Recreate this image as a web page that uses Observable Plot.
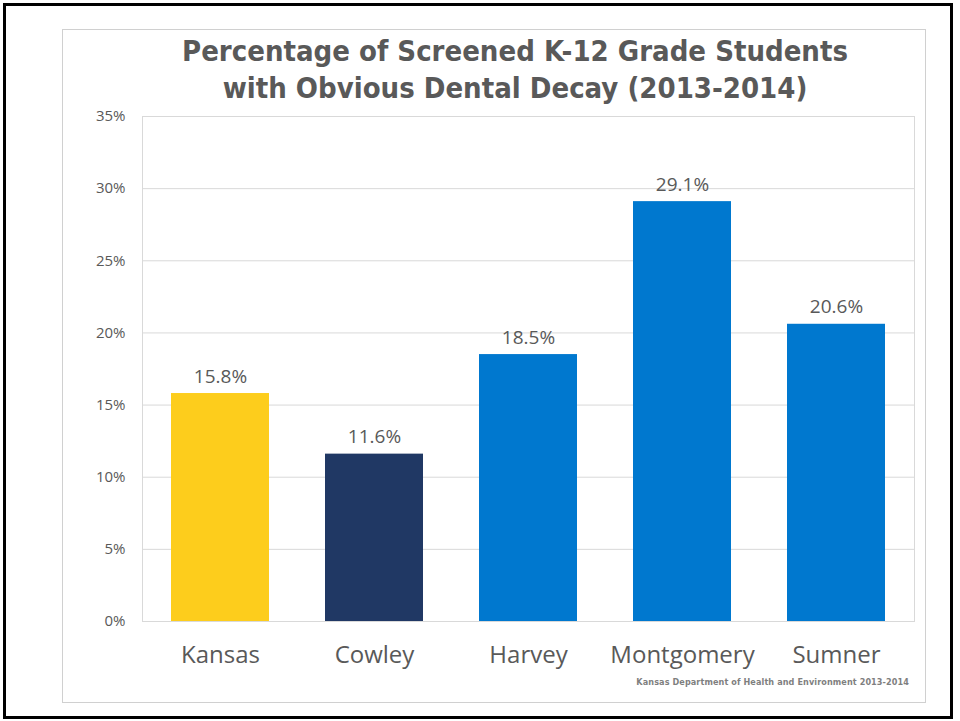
<!DOCTYPE html>
<html>
<head>
<meta charset="utf-8">
<script src="https://cdn.jsdelivr.net/npm/d3@7"></script>
<script src="https://cdn.jsdelivr.net/npm/@observablehq/plot@0.6"></script>
<style>
  html, body { margin: 0; padding: 0; background: #fff; }
  #wrap { position: relative; width: 960px; height: 721px; overflow: hidden; }
  #outer { position: absolute; left: 3px; top: 3px; width: 944px; height: 710px; border: 3px solid #000; }
  #inner { position: absolute; left: 62px; top: 29px; width: 862px; height: 672px; border: 1px solid #d0d0d0; }
  #title { position: absolute; left: 62px; width: 906px; top: 33px; text-align: center;
           font-family: "DejaVu Sans Condensed", "DejaVu Sans", sans-serif; font-weight: bold;
           font-size: 29px; line-height: 37px; color: #595959; }
  #caption { position: absolute; right: 51px; top: 677px; font-family: "DejaVu Sans Condensed", "DejaVu Sans", sans-serif;
             font-weight: bold; font-size: 9px; letter-spacing: 0.1px; color: #7f7f7f; white-space: nowrap; }
  #chart { position: absolute; left: 0; top: 0; }
</style>
</head>
<body>
<div id="wrap">
  <div id="outer"></div>
  <div id="inner"></div>
  <div id="chart"></div>
  <div id="title">Percentage of Screened K-12 Grade Students<br>with Obvious Dental Decay (2013-2014)</div>
  <div id="caption">Kansas Department of Health and Environment 2013-2014</div>
</div>
<script>
const categories = ["Kansas", "Cowley", "Harvey", "Montgomery", "Sumner"];
const values = [15.8, 11.6, 18.5, 29.1, 20.6];
const barColors = ["#FDCD1C", "#203864", "#0078CF", "#0078CF", "#0078CF"];
const yTicks = [0, 5, 10, 15, 20, 25, 30, 35];

const data = categories.map((c, i) => ({category: c, value: values[i], color: barColors[i]}));

const chart = Plot.plot({
  width: 960,
  height: 721,
  marginLeft: 142,
  marginRight: 46,
  marginTop: 116,
  marginBottom: 100,
  style: { background: "transparent", fontFamily: "'Open Sans', sans-serif", color: "#595959" },
  x: { domain: categories, paddingInner: 0.365, paddingOuter: 0.1825, label: null },
  y: { domain: [0, 35], label: null },
  marks: [
    Plot.gridY(yTicks, { stroke: "#d9d9d9", strokeOpacity: 1 }),
    Plot.frame({ stroke: "#d9d9d9" }),
    Plot.barY(data, { x: "category", y: "value", fill: "color" }),
    Plot.text(data, { x: "category", y: "value", text: d => d.value.toFixed(1) + "%", lineAnchor: "bottom", dy: -11, fontSize: 19, fill: "#595959" }),
    Plot.axisY({ ticks: yTicks, tickSize: 0, tickPadding: 17, tickFormat: d => d + "%", fontSize: 15, fill: "#595959", label: null }),
    Plot.axisX({ tickSize: 0, tickPadding: 24, fontSize: 24, fill: "#595959", label: null })
  ]
});
document.getElementById("chart").appendChild(chart);
</script>
</body>
</html>
